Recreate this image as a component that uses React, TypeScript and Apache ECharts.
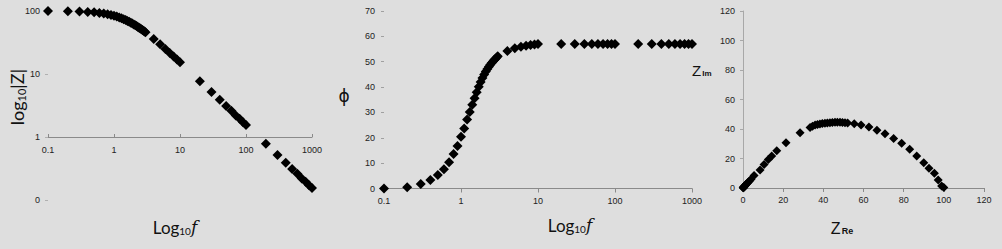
import React, { useEffect, useRef } from 'react';
import * as echarts from 'echarts';

// Frequencies (Hz) shared by the Bode plots
const freqs = [
  0.1, 0.2, 0.3, 0.4, 0.5, 0.6, 0.7, 0.8, 0.9, 1.0,
  1.1, 1.2, 1.3, 1.4, 1.5, 1.6, 1.7, 1.8, 1.9, 2.0,
  2.1, 2.2, 2.3, 2.4, 2.5, 2.6, 2.7, 2.8, 2.9, 3.0,
  4, 5, 6, 7, 8, 9, 10,
  20, 30, 40, 50, 60, 70, 80, 90, 100,
  200, 300, 400, 500, 600, 700, 800, 900, 1000,
];

// |Z|
const magZ = [
  99.8, 99.2, 98.2, 96.8, 95.2, 93.3, 91.1, 88.9, 86.5, 84.0,
  81.6, 79.1, 76.6, 74.2, 71.9, 69.6, 67.4, 65.3, 63.3, 61.3,
  59.4, 57.6, 55.9, 54.3, 52.7, 51.2, 49.8, 48.4, 47.1, 45.9,
  36.1, 29.6, 25.0, 21.6, 19.0, 17.0, 15.4,
  7.7, 5.2, 3.9, 3.1, 2.6, 2.2, 1.94, 1.72, 1.55,
  0.78, 0.52, 0.39, 0.31, 0.26, 0.22, 0.194, 0.172, 0.155,
];

// phase angle
const phase = [
  0, 0.5, 1.8, 3.4, 5.3, 7.6, 10.4, 13.6, 16.8, 20.4,
  23.7, 27.2, 30.2, 33.0, 35.6, 38.0, 40.1, 42.0, 43.6, 45.0,
  46.1, 47.1, 48.0, 48.8, 49.5, 50.1, 50.7, 51.2, 51.7, 52.2,
  54.2, 55.3, 55.9, 56.3, 56.6, 56.8, 57.0,
  57.0, 57.0, 57.0, 57.0, 57.0, 57.0, 57.0, 57.0, 57.0,
  57.0, 57.0, 57.0, 57.0, 57.0, 57.0, 57.0, 57.0, 57.0,
];

// Nyquist plot points
const zRe = [
  0.1, 0.15, 0.2, 0.25, 0.3, 0.4, 0.5, 0.8, 1.0, 1.3,
  1.6, 2.0, 2.5, 3.2, 4.0, 5.5, 8.5, 10.5, 12.6, 14.3,
  16.8, 21.4, 28.4, 33.4, 34.6, 35.9, 37.1, 38.3, 39.5, 40.8,
  42.0, 43.3, 44.5, 45.8, 47.0, 48.3, 49.5, 50.8, 52.1, 55.4,
  58.8, 62.7, 66.7, 70.7, 75.0, 79.0, 83.0, 86.5, 90.0, 92.6,
  95.3, 97.2, 98.9, 100.0,
];
const zIm = [
  0.15, 0.2, 0.3, 0.35, 0.45, 0.6, 0.8, 1.2, 1.6, 2.0,
  2.5, 3.1, 3.8, 4.8, 6.0, 8.5, 12.2, 16.0, 19.4, 21.7,
  25.3, 30.7, 37.5, 41.1, 41.9, 42.7, 43.1, 43.4, 43.7, 43.9,
  44.1, 44.3, 44.4, 44.5, 44.5, 44.5, 44.4, 44.3, 44.1, 43.5,
  42.7, 41.4, 39.2, 36.7, 33.6, 30.3, 26.2, 21.7, 17.2, 13.4,
  10.0, 5.4, 1.4, 0.3,
];

// Tick labels
const freqTickLabels = ['0.1', '1', '10', '100', '1000'];
const magTickLabels = ['0', '1', '10', '100'];

export default function App() {
  const ref = useRef<HTMLDivElement>(null);

  useEffect(() => {
    const chart = echarts.init(ref.current!, null, { renderer: 'svg' });
    const tick = { fontFamily: 'Liberation Sans', fontSize: 9, color: '#222222' };
    const nameFont = 'Lato';
    const ink = '#000000';
    const marker = { symbol: 'diamond', itemStyle: { color: ink, opacity: 1 } };

    const option: any = {
      animation: false,
      backgroundColor: '#dedede',
      grid: [
        { left: 48, top: 11, width: 264, height: 189, outerBoundsMode: 'none' },
        { left: 384, top: 11, width: 308, height: 177.5, outerBoundsMode: 'none' },
        { left: 743, top: 11, width: 241, height: 177, outerBoundsMode: 'none' },
      ],
      xAxis: [
        {
          gridIndex: 0, type: 'log', logBase: 10, min: 0.1, max: 1000,
          offset: -63,
          axisLine: { show: true, lineStyle: { color: '#8a8a8a', width: 1 } },
          axisTick: { show: true, inside: true, length: 3, lineStyle: { color: '#8a8a8a' } },
          axisLabel: { ...tick, margin: 8, formatter: (_v: number, i: number) => freqTickLabels[i] },
          splitLine: { show: false },
          minorTick: { show: false },
        },
        {
          gridIndex: 1, type: 'log', logBase: 10, min: 0.1, max: 1000,
          axisLine: { show: true, lineStyle: { color: '#8a8a8a', width: 1 } },
          axisTick: { show: true, length: 4, lineStyle: { color: '#8a8a8a' } },
          axisLabel: { ...tick, margin: 8, formatter: (_v: number, i: number) => freqTickLabels[i] },
          splitLine: { show: false },
        },
        {
          gridIndex: 2, type: 'value', min: 0, max: 120, interval: 20,
          axisLine: { show: true, lineStyle: { color: '#8a8a8a', width: 1 } },
          axisTick: { show: true, length: 4, lineStyle: { color: '#8a8a8a' } },
          axisLabel: { ...tick, margin: 7 },
          splitLine: { show: false },
        },
      ],
      yAxis: [
        {
          gridIndex: 0, type: 'log', logBase: 10, min: 0.1, max: 100,
          axisLine: { show: false },
          axisTick: { show: true, length: 3, lineStyle: { color: '#b0b0b0' } },
          axisLabel: { ...tick, margin: 8, formatter: (_v: number, i: number) => magTickLabels[i] },
          splitLine: { show: false },
        },
        {
          gridIndex: 1, type: 'value', min: 0, max: 70, interval: 10,
          axisLine: { show: false },
          axisTick: { show: true, length: 3, lineStyle: { color: '#a0a0a0' } },
          axisLabel: { ...tick, margin: 9 },
          splitLine: { show: false },
        },
        {
          gridIndex: 2, type: 'value', min: 0, max: 120, interval: 20,
          axisLine: { show: true, lineStyle: { color: '#a8a8a8', width: 1 } },
          axisTick: { show: true, length: 3, lineStyle: { color: '#a8a8a8' } },
          axisLabel: { ...tick, margin: 8 },
          splitLine: { show: false },
        },
      ],
      series: [
        {
          type: 'scatter', xAxisIndex: 0, yAxisIndex: 0, symbolSize: 10, ...marker,
          data: freqs.map((f, i) => [f, magZ[i]]),
        },
        {
          type: 'scatter', xAxisIndex: 1, yAxisIndex: 1, symbolSize: 10, ...marker,
          data: freqs.map((f, i) => [f, phase[i]]),
        },
        {
          type: 'scatter', xAxisIndex: 2, yAxisIndex: 2, symbolSize: 9, ...marker,
          data: zRe.map((r, i) => [r, zIm[i]]),
        },
      ],
      graphic: [
        {
          type: 'text', x: 17, y: 97, rotation: Math.PI / 2,
          style: {
            text: 'log{s|10}|Z|', fontFamily: nameFont, fontSize: 18, fill: '#111',
            align: 'center', verticalAlign: 'middle',
            rich: { s: { fontSize: 11, fontFamily: nameFont, padding: [8, 0, 0, 0] } },
          },
        },
        {
          type: 'text', x: 175, y: 227,
          style: {
            text: 'Log{s|10}{i|f}', fontFamily: nameFont, fontSize: 17, fill: '#111',
            align: 'center', verticalAlign: 'middle',
            rich: {
              s: { fontSize: 10, fontFamily: nameFont, padding: [8, 0, 0, 0] },
              i: { fontSize: 17, fontFamily: 'DejaVu Serif', fontStyle: 'italic' },
            },
          },
        },
        {
          type: 'text', x: 570, y: 225,
          style: {
            text: 'Log{s|10}{i|f}', fontFamily: nameFont, fontSize: 17, fill: '#111',
            align: 'center', verticalAlign: 'middle',
            rich: {
              s: { fontSize: 10, fontFamily: nameFont, padding: [8, 0, 0, 0] },
              i: { fontSize: 17, fontFamily: 'DejaVu Serif', fontStyle: 'italic' },
            },
          },
        },
        {
          type: 'text', x: 344, y: 96,
          style: {
            text: 'ϕ', fontFamily: 'DejaVu Sans', fontSize: 17, fill: '#111',
            align: 'center', verticalAlign: 'middle',
          },
        },
        {
          type: 'text', x: 692, y: 70,
          style: {
            text: 'Z{s|Im}', fontFamily: 'Liberation Sans', fontSize: 15, fill: '#111',
            align: 'left', verticalAlign: 'middle',
            rich: { s: { fontSize: 8, fontWeight: 'bold', fontFamily: 'Liberation Sans', padding: [6, 0, 0, 1] } },
          },
        },
        {
          type: 'text', x: 842, y: 228,
          style: {
            text: 'Z{s|Re}', fontFamily: 'Liberation Sans', fontSize: 16, fill: '#111',
            align: 'center', verticalAlign: 'middle',
            rich: { s: { fontSize: 9, fontWeight: 'bold', fontFamily: 'Liberation Sans', padding: [6, 0, 0, 1] } },
          },
        },
      ],
    };

    chart.setOption(option);
    return () => chart.dispose();
  }, []);

  return (
    <div
      ref={ref}
      style={{ position: 'absolute', left: 0, top: 0, width: 1002, height: 249 }}
    />
  );
}
